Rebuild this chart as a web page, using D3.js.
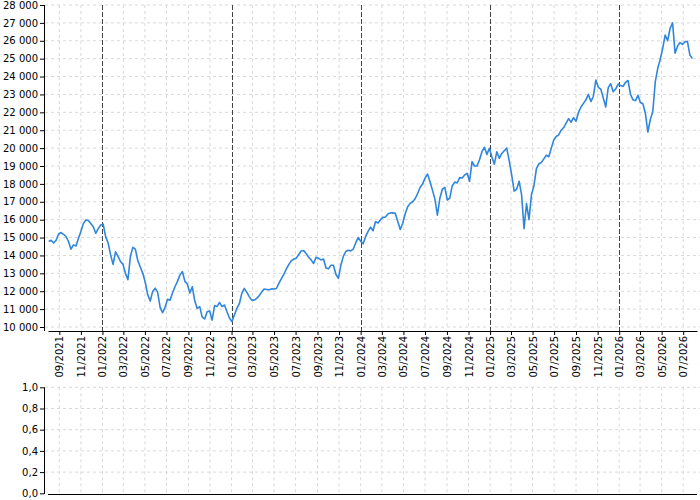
<!DOCTYPE html>
<html><head><meta charset="utf-8">
<script src="https://cdn.jsdelivr.net/npm/d3@7"></script>
<style>
body{margin:0;background:#fff}
svg{display:block}
text{font-family:"DejaVu Sans",sans-serif;font-size:10px;fill:#000}
</style>
</head><body><svg id="c" width="700" height="500"></svg>
<script>
// ---- data ----
const startDate = "2021-08-02";   // first weekly observation
const stepDays = 7;                // weekly observations
const values = [
14780,14850,14700,14850,15200,15280,15180,15060,14780,14350,
14590,14530,14950,15340,15780,15980,15950,15780,15600,15240,
15500,15700,15750,15050,14700,14030,13500,14200,13950,13660,
13500,13000,12650,13950,14450,14350,13700,13350,13000,12500,
11800,11450,11990,12170,11950,11100,10800,11100,11550,11500,
11900,12250,12550,12900,13100,
12550,12400,11900,12250,11450,11040,11140,10550,10450,10850,
10900,10390,11200,11150,11380,11140,11230,10850,10500,10300,
10670,11040,11300,11880,12160,11950,11700,11500,11500,11600,
11750,11950,12120,12100,12080,12130,12120,12150,12450,12700,
12950,13250,13500,13700,13800,13850,14050,14250,14280,14100,
13900,13750,13550,13900,13840,
13750,13800,13300,13250,13450,13450,12950,12720,13450,13950,
14220,14290,14250,14350,14700,15000,14800,14650,15050,15350,
15580,15380,15880,15810,16000,16130,16150,16320,16380,16380,
16350,15900,15450,15800,16330,16720,16910,17000,17170,17460,
17800,17990,18320,18550,18130,17650,17150,16250,17200,17700,
17800,17100,17200,17900,18100,
18050,18350,18330,18500,18590,18150,19250,19000,19000,19350,
19800,20050,19650,19990,19500,19100,19800,19430,19700,19850,
20000,19300,18500,17600,17700,18150,17400,15500,16900,16000,
17400,17900,18850,19130,19200,19400,19600,19520,20000,20450,
20650,20740,21000,21150,21400,21650,21450,21700,21500,22000,
22300,22500,22700,23000,22600,
22900,23800,23400,23300,22800,22300,23380,23600,23150,23300,
23580,23500,23450,23680,23780,23000,22700,22650,22950,22550,
22480,21950,20900,21600,22040,23700,24460,24950,25580,26320,
26000,26700,27000,25300,25700,25900,25800,25950,25950,25200,
25000
];
const xDomain = ["2021-07-31", "2026-08-09"];
const xTickMonths = [
"2021-09","2021-11",
"2022-01","2022-03","2022-05","2022-07","2022-09","2022-11",
"2023-01","2023-03","2023-05","2023-07","2023-09","2023-11",
"2024-01","2024-03","2024-05","2024-07","2024-09","2024-11",
"2025-01","2025-03","2025-05","2025-07","2025-09","2025-11",
"2026-01","2026-03","2026-05","2026-07"
];
const topTicks = [10000,11000,12000,13000,14000,15000,16000,17000,18000,19000,20000,21000,22000,23000,24000,25000,26000,27000,28000];
const bottomTicks = [0,0.2,0.4,0.6,0.8,1.0];

// ---- setup ----
const loc = d3.formatLocale({decimal:",", thousands:"\u00a0", grouping:[3], currency:["","€"]});
const fmtTop = loc.format(",.0f");
const fmtBot = loc.format(".1f");
const parseDay = d3.timeParse("%Y-%m-%d");
const parseMonth = d3.timeParse("%Y-%m");
const start = parseDay(startDate);
const data = values.map((v,i) => ({date: d3.timeDay.offset(start, i*stepDays), value: v}));
const tickDates = xTickMonths.map(parseMonth);

const L = 48, R = 697;
const pTop = {y0: 5, y1: 327, axisY: 331};
const pBot = {y0: 387.3, y1: 493.3, axisY: 494};

const x = d3.scaleTime().domain(xDomain.map(parseDay)).range([L, R]);
const yT = d3.scaleLinear().domain([10000, 28000]).range([pTop.y1, pTop.y0]);
const yB = d3.scaleLinear().domain([0, 1]).range([pBot.y1, pBot.y0]);

const svg = d3.select("#c");
const lightGrid = "#d9d9d9";

// ---- grids: top ----
const gT = svg.append("g");
gT.selectAll("line.h").data(topTicks).join("line")
  .attr("x1", 45).attr("x2", 700)
  .attr("y1", d => yT(d)).attr("y2", d => yT(d))
  .attr("stroke", lightGrid).attr("stroke-dasharray", "3,3");
gT.selectAll("line.v").data(tickDates.filter(d => d.getMonth() !== 0)).join("line")
  .attr("x1", d => x(d)).attr("x2", d => x(d))
  .attr("y1", pTop.y0).attr("y2", pTop.y1)
  .attr("stroke", lightGrid).attr("stroke-dasharray", "3,3");
gT.selectAll("line.yr").data(tickDates.filter(d => d.getMonth() === 0)).join("line")
  .attr("x1", d => Math.round(x(d)) + 0.5).attr("x2", d => Math.round(x(d)) + 0.5)
  .attr("y1", pTop.y0).attr("y2", pTop.axisY)
  .attr("stroke", "#444").attr("stroke-dasharray", "5,2");

// ---- grids: bottom ----
const gB = svg.append("g");
gB.selectAll("line.h").data(bottomTicks.filter(d => d > 0)).join("line")
  .attr("x1", 45).attr("x2", 700)
  .attr("y1", d => yB(d)).attr("y2", d => yB(d))
  .attr("stroke", lightGrid).attr("stroke-dasharray", "3,3");
gB.selectAll("line.v").data(tickDates).join("line")
  .attr("x1", d => x(d)).attr("x2", d => x(d))
  .attr("y1", pBot.y0).attr("y2", pBot.y1)
  .attr("stroke", lightGrid).attr("stroke-dasharray", "3,3");

// ---- line ----
svg.append("defs").append("clipPath").attr("id", "clipT")
  .append("rect").attr("x", L).attr("y", 0).attr("width", R - L).attr("height", pTop.axisY);
svg.append("path").datum(data)
  .attr("clip-path", "url(#clipT)")
  .attr("fill", "none").attr("stroke", "#2f86dc").attr("stroke-width", 1.6)
  .attr("stroke-linejoin", "round")
  .attr("d", d3.line().x(d => x(d.date)).y(d => yT(d.value)));

// ---- axes: top ----
const ayT = svg.append("g").attr("transform", "translate(44,0)")
  .call(d3.axisLeft(yT).tickValues(topTicks).tickFormat(fmtTop).tickSize(4).tickPadding(2).tickSizeOuter(0));
ayT.select(".domain").remove();
ayT.selectAll("text").style("font-family", '"DejaVu Sans",sans-serif').style("font-size", "10px");
svg.append("line").attr("x1", 44.5).attr("x2", 44.5).attr("y1", pTop.y0).attr("y2", pTop.axisY).attr("stroke", "#000");

const axT = svg.append("g").attr("transform", `translate(0,${pTop.axisY})`)
  .call(d3.axisBottom(x).tickValues(tickDates).tickFormat(d3.timeFormat("%m/%Y")).tickSize(4).tickSizeOuter(0));
axT.selectAll("text")
  .style("font-family", '"DejaVu Sans",sans-serif').style("font-size", "10px")
  .attr("text-anchor", "end").attr("transform", "rotate(-90)")
  .attr("x", -5).attr("y", 0).attr("dy", "0.35em");

// ---- axes: bottom ----
const ayB = svg.append("g").attr("transform", "translate(44,0)")
  .call(d3.axisLeft(yB).tickValues(bottomTicks).tickFormat(fmtBot).tickSize(4).tickPadding(2).tickSizeOuter(0));
ayB.select(".domain").remove();
ayB.selectAll("text").style("font-family", '"DejaVu Sans",sans-serif').style("font-size", "10px");
svg.append("line").attr("x1", 44.5).attr("x2", 44.5).attr("y1", pBot.y0).attr("y2", pBot.axisY).attr("stroke", "#000");
svg.append("line").attr("x1", L).attr("x2", R).attr("y1", pBot.axisY + 0.5).attr("y2", pBot.axisY + 0.5).attr("stroke", "#000");
</script>
</body></html>
